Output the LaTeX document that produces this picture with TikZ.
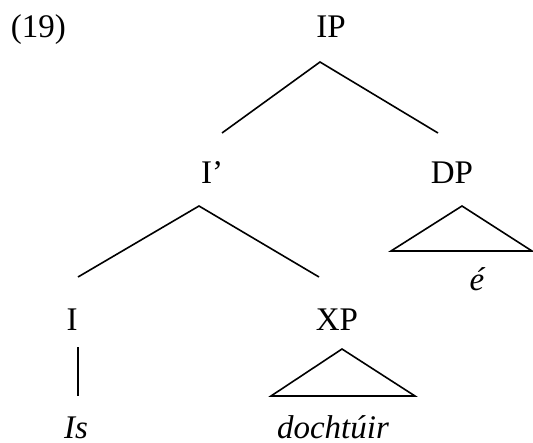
\documentclass[tikz,border=0pt]{standalone}
\usepackage{fontspec}
\setmainfont{Liberation Serif}
\usepackage{tikz}

\begin{document}
\begin{tikzpicture}[x=1pt,y=-1pt,line width=1.6pt,
  lab/.style={anchor=base,inner sep=0pt,font=\fontsize{33}{40}\selectfont},
  word/.style={lab,font=\fontsize{33}{40}\selectfont\itshape}]
\newcommand{\roof}[1]{\draw[line join=miter] (#1-a) -- (#1-l) -- (#1-r) -- cycle;}
\useasboundingbox (0,0) rectangle (533,442);
% labels
\node[lab,anchor=base west] (num) at (10,37) {(19)};
\node[lab] (IP) at (331,37) {IP};
\node[lab] (Ibar) at (212,183) {I’};
\node[lab] (DP) at (452,183) {DP};
\node[lab] (I) at (72,330) {I};
\node[lab] (XP) at (337,330) {XP};
\node[word] (e) at (477,290) {é};
\node[word] (is) at (76,438) {Is};
\node[word] (doc) at (333,438) {dochtúir};
% branch ends
\coordinate (IP-a) at (320,62);
\coordinate (IP-l) at (222,133);
\coordinate (IP-r) at (438,133);
\coordinate (Ibar-a) at (199,206);
\coordinate (Ibar-l) at (78,277);
\coordinate (Ibar-r) at (319,277);
\coordinate (I-t) at (78,347);
\coordinate (I-b) at (78,396);
\coordinate (DP-a) at (462,206);
\coordinate (DP-l) at (391,251);
\coordinate (DP-r) at (532,251);
\coordinate (XP-a) at (342,349);
\coordinate (XP-l) at (271,396);
\coordinate (XP-r) at (415,396);
% branches
\draw (IP-l) -- (IP-a) -- (IP-r);
\draw (Ibar-l) -- (Ibar-a) -- (Ibar-r);
\draw (I-t) -- (I-b);
\roof{DP}
\roof{XP}
\end{tikzpicture}
\end{document}
